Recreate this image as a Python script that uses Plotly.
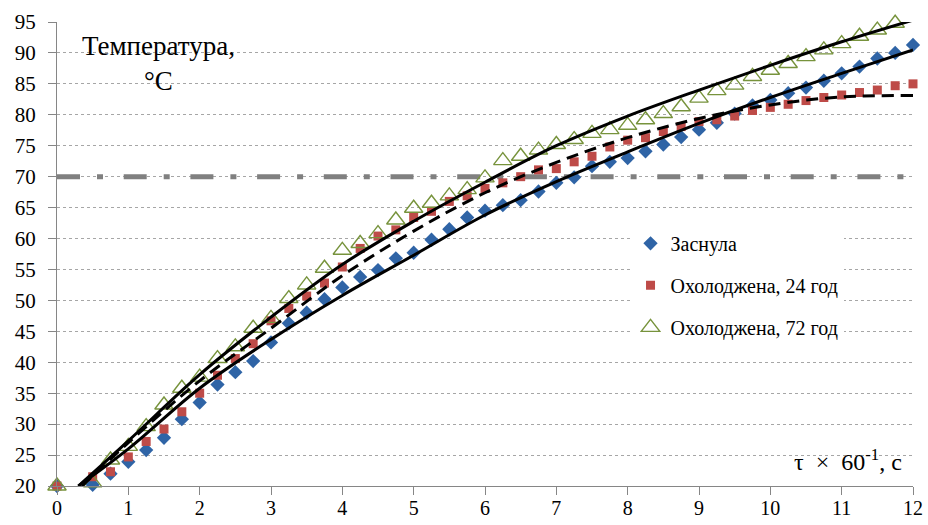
import plotly.graph_objects as go

# ---- data ----
t_pts = [0, 0.5, 0.75, 1.0, 1.25, 1.5, 1.75, 2.0, 2.25, 2.5, 2.75, 3.0, 3.25, 3.5, 3.75,
         4.0, 4.25, 4.5, 4.75, 5.0, 5.25, 5.5, 5.75, 6.0, 6.25, 6.5, 6.75, 7.0, 7.25, 7.5,
         7.75, 8.0, 8.25, 8.5, 8.75, 9.0, 9.25, 9.5, 9.75, 10.0, 10.25, 10.5, 10.75, 11.0,
         11.25, 11.5, 11.75, 12.0]

asleep = [20.0, 20.2, 22.0, 23.9, 25.8, 27.8, 30.8, 33.5, 36.4, 38.4, 40.2, 43.2, 46.3, 48.0,
          50.2, 52.1, 53.8, 54.9, 56.8, 57.7, 59.8, 61.5, 63.4, 64.5, 65.4, 66.2, 67.6, 69.0,
          69.9, 71.7, 72.4, 73.0, 74.1, 75.2, 76.4, 77.6, 78.7, 80.2, 81.5, 82.4, 83.5, 84.4,
          85.5, 86.7, 87.8, 89.1, 90.0, 91.3]

chilled24 = [20.0, 21.5, 22.3, 24.7, 27.2, 29.2, 32.0, 35.0, 37.9, 40.6, 43.0, 46.7, 48.7, 50.7,
             52.8, 55.4, 58.4, 60.4, 61.4, 63.4, 64.4, 66.0, 66.9, 68.1, 69.0, 70.0, 71.1, 71.3,
             72.4, 73.3, 74.8, 75.9, 76.3, 77.3, 78.1, 78.9, 79.2, 79.8, 80.7, 81.2, 81.7, 82.3,
             82.8, 83.2, 83.6, 84.0, 84.7, 85.0]

t_pts72 = t_pts[:-1]
chilled72 = [20.0, 20.5, 24.2, 26.4, 29.6, 33.1, 35.8, 37.6, 40.6, 42.5, 45.5, 47.1, 50.3, 52.5,
             55.2, 58.1, 59.2, 60.8, 63.0, 64.9, 65.7, 66.9, 67.9, 69.8, 72.6, 73.3, 74.3, 75.2,
             76.0, 77.0, 77.6, 78.3, 79.2, 80.2, 81.3, 82.7, 83.9, 84.8, 86.2, 87.2, 88.3, 89.4,
             90.5, 91.5, 92.7, 93.7, 94.8]

# trend lines
fit_x = [0.3, 1, 2, 3, 4, 5, 6, 7, 8, 9, 10, 11, 12]
fit_upper = [20.0, 27.3, 38.0, 47.3, 55.8, 62.8, 69.1, 75.0, 79.8, 84.0, 88.0, 91.8, 95.3]
fit_lower = [20.0, 26.0, 35.8, 43.7, 50.8, 57.3, 63.8, 69.2, 74.0, 78.6, 82.8, 86.7, 90.5]
fit_dash_x = [0.35, 1, 2, 3, 4, 5, 6, 7, 8, 9, 10, 11, 12]
fit_dash = [20.0, 27.0, 37.0, 45.5, 54.0, 61.2, 67.4, 72.3, 76.3, 79.4, 81.6, 82.9, 83.1]

ref_x = [0, 12]
ref_y = [70, 70]

x_ticks = list(range(0, 13))
y_ticks = list(range(20, 96, 5))

names = ["Заснула", "Охолоджена, 24 год", "Охолоджена, 72 год"]

FONT = "Liberation Serif"

fig = go.Figure()

fig.add_trace(go.Scatter(x=ref_x, y=ref_y, mode="lines", showlegend=False,
                         line=dict(color="#808080", width=5, dash="23px,17px,6px,20.7px"),
                         hoverinfo="skip"))

fig.add_trace(go.Scatter(x=t_pts, y=asleep, mode="markers", name=names[0], legendgroup="a",
                         marker=dict(symbol="diamond", size=11, color="#2F64A6"),
                         cliponaxis=False))
fig.add_trace(go.Scatter(x=t_pts, y=chilled24, mode="markers", name=names[1], legendgroup="b",
                         marker=dict(symbol="square", size=9, color="#BE4B48"),
                         cliponaxis=False))
fig.add_trace(go.Scatter(x=t_pts72, y=chilled72, mode="markers", name=names[2], legendgroup="c",
                         marker=dict(symbol="triangle-up-open", size=16, color="#77933C",
                                     line=dict(width=1.4, color="#77933C")),
                         cliponaxis=False))

fig.add_trace(go.Scatter(x=fit_x, y=fit_upper, mode="lines", line_shape="spline", showlegend=False,
                         line=dict(color="black", width=3)))
fig.add_trace(go.Scatter(x=fit_x, y=fit_lower, mode="lines", line_shape="spline", showlegend=False,
                         line=dict(color="black", width=3)))
fig.add_trace(go.Scatter(x=fit_dash_x, y=fit_dash, mode="lines", line_shape="spline", showlegend=False,
                         line=dict(color="black", width=3, dash="12px,7px")))

fig.update_layout(
    width=928, height=525,
    margin=dict(l=57, r=15, t=22, b=39),
    paper_bgcolor="white", plot_bgcolor="white",
    font=dict(family=FONT, size=20, color="black"),
    showlegend=True,
    legend=dict(x=0.670, y=0.565, xanchor="left", yanchor="top",
                bgcolor="white", font=dict(family=FONT, size=20),
                tracegroupgap=13, itemwidth=30),
    xaxis=dict(range=[0, 12], tickvals=x_ticks, showgrid=False, zeroline=False,
               showline=True, linecolor="#868686", linewidth=1, automargin=False,
               ticks="outside", ticklen=8, tickcolor="#868686",
               tickfont=dict(family=FONT, size=20), ticklabelstandoff=-4),
    yaxis=dict(range=[20, 95], tickvals=y_ticks, showgrid=True, gridcolor="#A6A6A6",
               griddash="3px,3px", gridwidth=1, zeroline=False, automargin=False,
               showline=True, linecolor="#868686", linewidth=1,
               ticks="outside", ticklen=8, tickcolor="#868686",
               tickfont=dict(family=FONT, size=21), ticklabelstandoff=8),
)

fig.add_annotation(text="Температура,<br>°C", xref="paper", yref="paper",
                   x=0.118, y=0.985, xanchor="center", yanchor="top", showarrow=False,
                   font=dict(family=FONT, size=27), align="center")
fig.add_annotation(text="τ&nbsp;&nbsp;×&nbsp;&nbsp;60<sup>-1</sup>, с", xref="paper", yref="paper",
                   x=0.99, y=0.02, xanchor="right", yanchor="bottom", showarrow=False,
                   font=dict(family=FONT, size=24))

fig.write_html("out.html")
